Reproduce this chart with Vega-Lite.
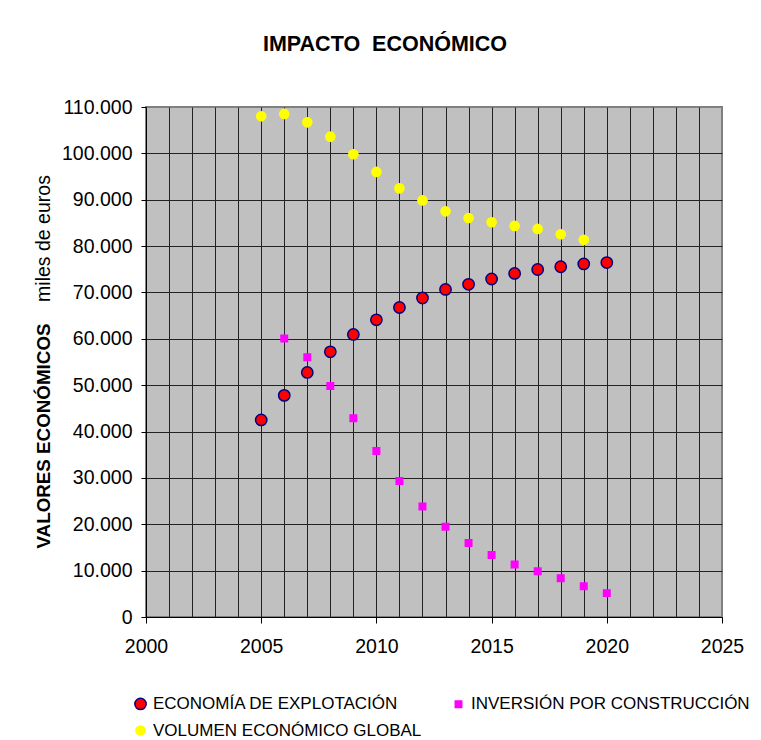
{
  "$schema": "https://vega.github.io/schema/vega-lite/v6.json",
  "width": 576,
  "height": 510,
  "autosize": "none",
  "padding": {"left": 146, "top": 107, "right": 39, "bottom": 123},
  "background": "white",
  "title": {
    "text": "IMPACTO\u00a0\u00a0ECONÓMICO",
    "font": "Liberation Sans",
    "fontSize": 21.5,
    "fontWeight": "bold",
    "color": "black",
    "anchor": "middle",
    "baseline": "alphabetic",
    "offset": 25,
    "dx": -49
  },
  "data": {
    "values": [
      {"serie": "ECONOMÍA DE EXPLOTACIÓN", "anio": 2005, "valor": 42500},
      {"serie": "ECONOMÍA DE EXPLOTACIÓN", "anio": 2006, "valor": 47800},
      {"serie": "ECONOMÍA DE EXPLOTACIÓN", "anio": 2007, "valor": 52750},
      {"serie": "ECONOMÍA DE EXPLOTACIÓN", "anio": 2008, "valor": 57200},
      {"serie": "ECONOMÍA DE EXPLOTACIÓN", "anio": 2009, "valor": 60950},
      {"serie": "ECONOMÍA DE EXPLOTACIÓN", "anio": 2010, "valor": 64100},
      {"serie": "ECONOMÍA DE EXPLOTACIÓN", "anio": 2011, "valor": 66750},
      {"serie": "ECONOMÍA DE EXPLOTACIÓN", "anio": 2012, "valor": 68800},
      {"serie": "ECONOMÍA DE EXPLOTACIÓN", "anio": 2013, "valor": 70650},
      {"serie": "ECONOMÍA DE EXPLOTACIÓN", "anio": 2014, "valor": 71750},
      {"serie": "ECONOMÍA DE EXPLOTACIÓN", "anio": 2015, "valor": 72900},
      {"serie": "ECONOMÍA DE EXPLOTACIÓN", "anio": 2016, "valor": 74100},
      {"serie": "ECONOMÍA DE EXPLOTACIÓN", "anio": 2017, "valor": 74950},
      {"serie": "ECONOMÍA DE EXPLOTACIÓN", "anio": 2018, "valor": 75550},
      {"serie": "ECONOMÍA DE EXPLOTACIÓN", "anio": 2019, "valor": 76150},
      {"serie": "ECONOMÍA DE EXPLOTACIÓN", "anio": 2020, "valor": 76450},
      {"serie": "INVERSIÓN POR CONSTRUCCIÓN", "anio": 2006, "valor": 60050},
      {"serie": "INVERSIÓN POR CONSTRUCCIÓN", "anio": 2007, "valor": 56000},
      {"serie": "INVERSIÓN POR CONSTRUCCIÓN", "anio": 2008, "valor": 49800},
      {"serie": "INVERSIÓN POR CONSTRUCCIÓN", "anio": 2009, "valor": 42850},
      {"serie": "INVERSIÓN POR CONSTRUCCIÓN", "anio": 2010, "valor": 35800},
      {"serie": "INVERSIÓN POR CONSTRUCCIÓN", "anio": 2011, "valor": 29350},
      {"serie": "INVERSIÓN POR CONSTRUCCIÓN", "anio": 2012, "valor": 23850},
      {"serie": "INVERSIÓN POR CONSTRUCCIÓN", "anio": 2013, "valor": 19450},
      {"serie": "INVERSIÓN POR CONSTRUCCIÓN", "anio": 2014, "valor": 15950},
      {"serie": "INVERSIÓN POR CONSTRUCCIÓN", "anio": 2015, "valor": 13350},
      {"serie": "INVERSIÓN POR CONSTRUCCIÓN", "anio": 2016, "valor": 11300},
      {"serie": "INVERSIÓN POR CONSTRUCCIÓN", "anio": 2017, "valor": 9850},
      {"serie": "INVERSIÓN POR CONSTRUCCIÓN", "anio": 2018, "valor": 8350},
      {"serie": "INVERSIÓN POR CONSTRUCCIÓN", "anio": 2019, "valor": 6650},
      {"serie": "INVERSIÓN POR CONSTRUCCIÓN", "anio": 2020, "valor": 5150},
      {"serie": "VOLUMEN ECONÓMICO GLOBAL", "anio": 2005, "valor": 108000},
      {"serie": "VOLUMEN ECONÓMICO GLOBAL", "anio": 2006, "valor": 108500},
      {"serie": "VOLUMEN ECONÓMICO GLOBAL", "anio": 2007, "valor": 106700},
      {"serie": "VOLUMEN ECONÓMICO GLOBAL", "anio": 2008, "valor": 103600},
      {"serie": "VOLUMEN ECONÓMICO GLOBAL", "anio": 2009, "valor": 99800},
      {"serie": "VOLUMEN ECONÓMICO GLOBAL", "anio": 2010, "valor": 96000},
      {"serie": "VOLUMEN ECONÓMICO GLOBAL", "anio": 2011, "valor": 92450},
      {"serie": "VOLUMEN ECONÓMICO GLOBAL", "anio": 2012, "valor": 89850},
      {"serie": "VOLUMEN ECONÓMICO GLOBAL", "anio": 2013, "valor": 87500},
      {"serie": "VOLUMEN ECONÓMICO GLOBAL", "anio": 2014, "valor": 86050},
      {"serie": "VOLUMEN ECONÓMICO GLOBAL", "anio": 2015, "valor": 85150},
      {"serie": "VOLUMEN ECONÓMICO GLOBAL", "anio": 2016, "valor": 84350},
      {"serie": "VOLUMEN ECONÓMICO GLOBAL", "anio": 2017, "valor": 83700},
      {"serie": "VOLUMEN ECONÓMICO GLOBAL", "anio": 2018, "valor": 82550},
      {"serie": "VOLUMEN ECONÓMICO GLOBAL", "anio": 2019, "valor": 81350}
    ]
  },
  "layer": [
    {
      "mark": {"type": "point", "opacity": 0},
      "encoding": {
        "x": {
          "field": "anio", "type": "quantitative",
          "scale": {"domain": [2000, 2025], "nice": false, "zero": false},
          "axis": {
            "orient": "top", "title": null, "labels": false, "ticks": false, "domain": false,
            "grid": true, "gridColor": "#222222", "gridWidth": 1,
            "values": [2001, 2002, 2003, 2004, 2005, 2006, 2007, 2008, 2009, 2010, 2011, 2012, 2013, 2014, 2015, 2016, 2017, 2018, 2019, 2020, 2021, 2022, 2023, 2024]
          }
        },
        "y": {
          "field": "valor", "type": "quantitative",
          "scale": {"domain": [0, 110000], "nice": false},
          "axis": {
            "orient": "right", "labels": false, "ticks": false, "domain": false,
            "grid": true, "gridColor": "#222222", "gridWidth": 1,
            "values": [10000, 20000, 30000, 40000, 50000, 60000, 70000, 80000, 90000, 100000],
            "title": "miles de euros",
            "titleFont": "Liberation Sans", "titleFontSize": 19.5, "titleFontWeight": "normal",
            "titleColor": "black", "titleAngle": 270, "titleBaseline": "middle", "titleAlign": "center",
            "titleX": -679, "titleY": 131
          }
        }
      }
    },
    {
      "mark": {"type": "point", "filled": true, "strokeWidth": 1.5, "opacity": 1},
      "encoding": {
        "x": {
          "field": "anio", "type": "quantitative",
          "scale": {"domain": [2000, 2025], "nice": false, "zero": false},
          "axis": {
            "orient": "bottom", "title": null, "grid": false,
            "values": [2000, 2005, 2010, 2015, 2020, 2025], "format": "d",
            "labelFont": "Liberation Sans", "labelFontSize": 19.5, "labelColor": "black",
            "labelPadding": 14, "tickSize": 6, "tickColor": "black", "domainColor": "black",
            "domainWidth": 1, "labelFlush": false
          }
        },
        "y": {
          "field": "valor", "type": "quantitative",
          "scale": {"domain": [0, 110000], "nice": false},
          "axis": {
            "orient": "left", "grid": false,
            "values": [0, 10000, 20000, 30000, 40000, 50000, 60000, 70000, 80000, 90000, 100000, 110000],
            "labelExpr": "replace(format(datum.value, ',d'), ',', '.')",
            "labelFont": "Liberation Sans", "labelFontSize": 19.5, "labelColor": "black",
            "labelPadding": 9, "tickSize": 5, "tickColor": "black", "domainColor": "black",
            "labelFlush": false,
            "title": "VALORES ECONÓMICOS",
            "titleFont": "Liberation Sans", "titleFontSize": 18.8, "titleFontWeight": "bold",
            "titleColor": "black", "titleAngle": 270, "titleBaseline": "middle", "titleAlign": "center",
            "titleX": -103, "titleY": 328.5
          }
        },
        "fill": {
          "field": "serie", "type": "nominal",
          "scale": {
            "domain": ["ECONOMÍA DE EXPLOTACIÓN", "INVERSIÓN POR CONSTRUCCIÓN", "VOLUMEN ECONÓMICO GLOBAL"],
            "range": ["#FF0000", "#FF00FF", "#FFFF00"]
          },
          "legend": {
            "title": null, "orient": "none", "legendX": -14, "legendY": 588,
            "direction": "horizontal", "columns": 2, "columnPadding": 28, "rowPadding": 8,
            "labelFont": "Liberation Sans", "labelFontSize": 17, "labelColor": "black",
            "labelOffset": 4, "labelLimit": 400
          }
        },
        "stroke": {
          "field": "serie", "type": "nominal",
          "scale": {
            "domain": ["ECONOMÍA DE EXPLOTACIÓN", "INVERSIÓN POR CONSTRUCCIÓN", "VOLUMEN ECONÓMICO GLOBAL"],
            "range": ["#000080", "#FF00FF", "#FFFF00"]
          },
          "legend": {
            "title": null, "orient": "none", "legendX": -14, "legendY": 588,
            "direction": "horizontal", "columns": 2, "columnPadding": 28, "rowPadding": 8,
            "labelFont": "Liberation Sans", "labelFontSize": 17, "labelColor": "black",
            "labelOffset": 4, "labelLimit": 400
          }
        },
        "shape": {
          "field": "serie", "type": "nominal",
          "scale": {
            "domain": ["ECONOMÍA DE EXPLOTACIÓN", "INVERSIÓN POR CONSTRUCCIÓN", "VOLUMEN ECONÓMICO GLOBAL"],
            "range": ["circle", "square", "circle"]
          },
          "legend": {
            "title": null, "orient": "none", "legendX": -14, "legendY": 588,
            "direction": "horizontal", "columns": 2, "columnPadding": 28, "rowPadding": 8,
            "labelFont": "Liberation Sans", "labelFontSize": 17, "labelColor": "black",
            "labelOffset": 4, "labelLimit": 400
          }
        },
        "size": {
          "field": "serie", "type": "nominal",
          "scale": {
            "type": "ordinal",
            "domain": ["ECONOMÍA DE EXPLOTACIÓN", "INVERSIÓN POR CONSTRUCCIÓN", "VOLUMEN ECONÓMICO GLOBAL"],
            "range": [128, 42, 84]
          },
          "legend": {
            "title": null, "orient": "none", "legendX": -14, "legendY": 588,
            "direction": "horizontal", "columns": 2, "columnPadding": 28, "rowPadding": 8,
            "labelFont": "Liberation Sans", "labelFontSize": 17, "labelColor": "black",
            "labelOffset": 4, "labelLimit": 400
          }
        }
      }
    }
  ],
  "resolve": {"axis": {"x": "independent", "y": "independent"}},
  "config": {
    "view": {"fill": "#C0C0C0", "stroke": "#808080", "strokeWidth": 2},
    "font": "Liberation Sans"
  }
}
